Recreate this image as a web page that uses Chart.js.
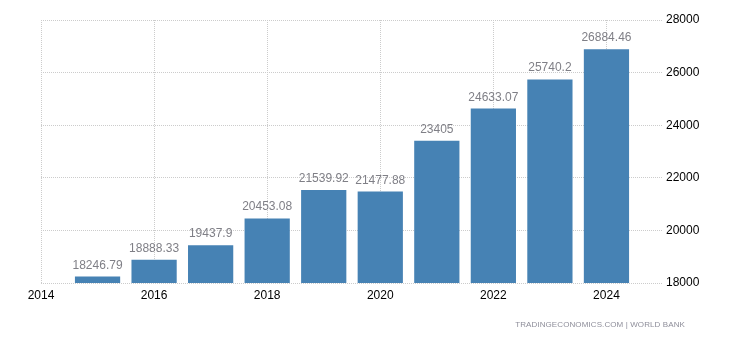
<!DOCTYPE html>
<html>
<head>
<meta charset="utf-8">
<script src="https://cdn.jsdelivr.net/npm/chart.js@4"></script>
<style>
  body { margin: 0; background: #fff; }
  #wrap { position: relative; width: 730px; height: 340px; }
  #source {
    position: absolute; right: 45px; top: 320px;
    font: 8px "Liberation Sans", Arial, sans-serif;
    color: #8e8e9a; letter-spacing: 0.1px; white-space: nowrap;
  }
</style>
</head>
<body>
<div id="wrap">
  <canvas id="chart" width="730" height="340"></canvas>
  <div id="source">TRADINGECONOMICS.COM | WORLD BANK</div>
</div>
<script>
var years = [2015, 2016, 2017, 2018, 2019, 2020, 2021, 2022, 2023, 2024];
var values = [18246.79, 18888.33, 19437.9, 20453.08, 21539.92, 21477.88, 23405, 24633.07, 25740.2, 26884.46];
var xTicks = [2014, 2016, 2018, 2020, 2022, 2024];
var yTicks = [18000, 20000, 22000, 24000, 26000, 28000];

// value printed above each bar
var barLabels = {
    id: 'barLabels',
    afterDatasetsDraw: function (chart) {
        var ctx = chart.ctx;
        var meta = chart.getDatasetMeta(0);
        ctx.save();
        ctx.font = '12px "Liberation Sans", Arial, sans-serif';
        ctx.fillStyle = '#7f7f86';
        ctx.textAlign = 'center';
        ctx.textBaseline = 'alphabetic';
        meta.data.forEach(function (bar, i) {
            ctx.fillText(String(values[i]), bar.x, bar.y - 8);
        });
        ctx.restore();
    }
};

var gridStyle = {
    color: '#cccccc',
    lineWidth: 1,
    drawTicks: false
};

var ctx = document.getElementById('chart').getContext('2d');
new Chart(ctx, {
    type: 'bar',
    data: {
        datasets: [{
            data: years.map(function (y, i) { return { x: y, y: values[i] }; }),
            backgroundColor: '#4682b4',
            borderWidth: 0,
            barPercentage: 1,
            categoryPercentage: 0.8
        }]
    },
    options: {
        responsive: false,
        animation: false,
        layout: { padding: { left: 41, top: 20, right: 0, bottom: 0 } },
        plugins: {
            legend: { display: false },
            tooltip: { enabled: false }
        },
        scales: {
            x: {
                type: 'linear',
                offset: false,
                min: 2014,
                max: 2025,
                afterBuildTicks: function (scale) {
                    scale.ticks = xTicks.map(function (v) { return { value: v }; });
                },
                afterFit: function (scale) { scale.height = 57; },
                grid: Object.assign({ offset: false }, gridStyle),
                border: { display: false, dash: [1, 1] },
                ticks: {
                    padding: 5,
                    color: '#000',
                    maxRotation: 0,
                    font: { family: '"Liberation Sans", Arial, sans-serif', size: 12 },
                    callback: function (v) { return String(v); }
                }
            },
            y: {
                position: 'right',
                min: 18000,
                max: 28000,
                afterBuildTicks: function (scale) {
                    scale.ticks = yTicks.map(function (v) { return { value: v }; });
                },
                afterFit: function (scale) { scale.width = 67; },
                grid: gridStyle,
                border: { display: false, dash: [1, 1] },
                ticks: {
                    padding: 3,
                    color: '#000',
                    font: { family: '"Liberation Sans", Arial, sans-serif', size: 12 },
                    callback: function (v) { return String(v); }
                }
            }
        }
    },
    plugins: [barLabels]
});
</script>
</body>
</html>
